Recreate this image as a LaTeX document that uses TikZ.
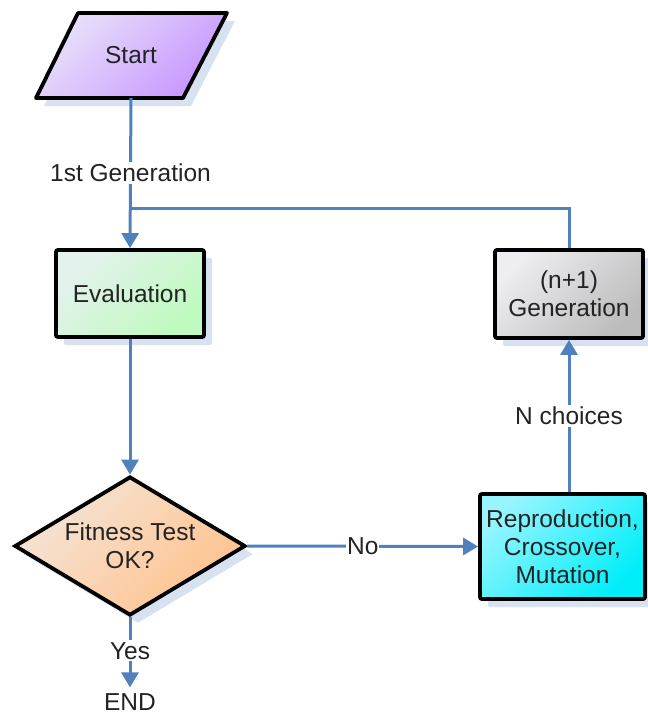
\documentclass[tikz,border=0pt]{standalone}
\usepackage{fontspec}
\setmainfont{Liberation Sans}
\usetikzlibrary{shapes.geometric,arrows.meta,shadows}
\definecolor{linec}{RGB}{79,129,189}
\definecolor{shadowc}{RGB}{215,225,240}
\definecolor{txtc}{RGB}{35,35,35}
\definecolor{stA}{RGB}{232,225,250}
\definecolor{stB}{RGB}{200,150,255}
\definecolor{evA}{RGB}{228,242,238}
\definecolor{evB}{RGB}{190,250,190}
\definecolor{fiA}{RGB}{245,228,215}
\definecolor{fiB}{RGB}{255,194,140}
\definecolor{geA}{RGB}{238,238,242}
\definecolor{geB}{RGB}{188,188,188}
\definecolor{reA}{RGB}{150,245,255}
\definecolor{reB}{RGB}{0,238,250}
\tikzset{
  every node/.style={font=\fontsize{24.5}{28}\selectfont, text=txtc, align=center},
  shadowed/.style={drop shadow={shadow xshift=8pt, shadow yshift=-8pt, fill=shadowc, opacity=1}},
  boxstyle/.style={draw=black, line width=3.8pt, rounded corners=2pt, shadowed, inner sep=0pt},
  conn/.style={draw=linec, line width=3pt},
  arr/.style={conn, -{Triangle[width=17pt,length=15pt]}},
  lbl/.style={fill=white, inner sep=2pt},
}
\begin{document}
\begin{tikzpicture}[x=1pt,y=-1pt]
\useasboundingbox (0,0) rectangle (648,715);
% Start parallelogram
\path[draw=black, line width=3.8pt, line join=round, shadowed,
      top color=stA, bottom color=stB, shading angle=45]
  (78,13) -- (227,13) -- (183,98) -- (36,98) -- cycle;
\node[minimum height=85pt, minimum width=100pt, inner sep=0pt] (start) at (131,55.5) {Start};
% Evaluation
\node[boxstyle, top color=evA, bottom color=evB, shading angle=45,
      minimum width=148pt, minimum height=87pt] (eval) at (130,293.5) {Evaluation};
% Generation
\node[boxstyle, top color=geA, bottom color=geB, shading angle=45,
      minimum width=148pt, minimum height=88pt] (gen) at (569,294) {(n+1)\\Generation};
% Diamond
\node[diamond, draw=black, line width=3.8pt, shadowed, inner sep=0pt, aspect=1.66,
      top color=fiA, bottom color=fiB, shading angle=45,
      minimum width=231pt, minimum height=139pt] (fit) at (130,546) {Fitness Test\\OK?};
% Reproduction
\node[boxstyle, top color=reA, bottom color=reB, shading angle=45,
      minimum width=165pt, minimum height=105pt] (rep) at (562.5,546.5) {Reproduction,\\Crossover,\\Mutation};
% END
\node[inner sep=0pt] (end) at (130,702) {END};
\coordinate (j) at (130,208);
% connectors
\draw[arr] (start.south) -- node[lbl] {1st Generation} (eval.north);
\draw[conn] (gen.north) |- (j);
\draw[arr] (eval.south) -- (fit.north);
\draw[arr] (fit.east) -- node[lbl, inner sep=1pt] {No} (rep.west);
\draw[arr] (gen.south |- rep.north) -- node[lbl] {N choices} (gen.south);
\draw[arr, shorten >=6pt] (fit.south) -- node[lbl, pos=0.44] {Yes} (end.north);
\end{tikzpicture}
\end{document}
